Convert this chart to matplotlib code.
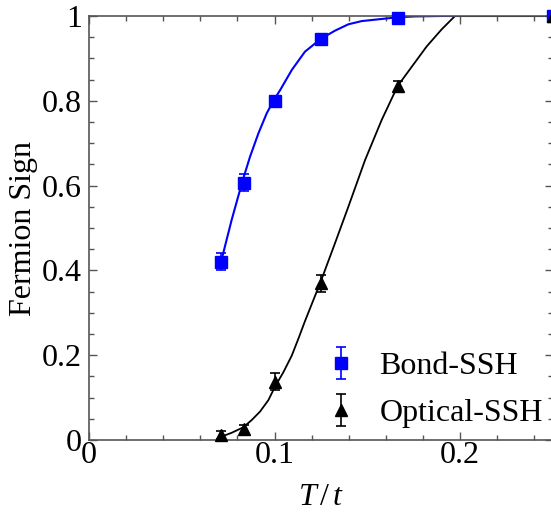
import matplotlib
matplotlib.use("Agg")
import matplotlib.pyplot as plt
from matplotlib.ticker import MultipleLocator, FuncFormatter

plt.rcParams['font.family'] = ['Liberation Serif', 'DejaVu Serif']
plt.rcParams['mathtext.fontset'] = 'custom'
plt.rcParams['mathtext.rm'] = 'Liberation Serif'
plt.rcParams['mathtext.it'] = 'Liberation Serif:italic'

# Data points
T_bond = [0.0714, 0.0833, 0.1, 0.125, 0.1667, 0.25]
S_bond = [0.420, 0.607, 0.800, 0.946, 0.996, 1.0]
E_bond = [0.020, 0.020, 0.010, 0.005, 0.004, 0.002]

T_opt = [0.0714, 0.0833, 0.1, 0.125, 0.1667, 0.25]
S_opt = [0.012, 0.025, 0.137, 0.370, 0.835, 1.0]
E_opt = [0.010, 0.010, 0.020, 0.020, 0.012, 0.002]

# Fit curves
fit_T_bond = [0.0712, 0.0769, 0.0828, 0.0868, 0.0913, 0.0958, 0.0997, 0.103,
              0.1093, 0.1164, 0.1249, 0.1326, 0.1398, 0.147, 0.1578, 0.1664,
              0.1757, 0.19, 0.25]
fit_S_bond = [0.4206, 0.519, 0.6116, 0.668, 0.723, 0.7705, 0.802, 0.825,
              0.8726, 0.9158, 0.9458, 0.9654, 0.9804, 0.988, 0.993, 0.997,
              0.999, 1.0, 1.0]

fit_T_opt = [0.0715, 0.0769, 0.0832, 0.0877, 0.0922, 0.0967, 0.1003, 0.1048,
             0.1093, 0.1128, 0.1164, 0.1249, 0.1326, 0.1398, 0.1488, 0.1578,
             0.1664, 0.182, 0.19, 0.1973, 0.25]
fit_S_opt = [0.008, 0.017, 0.030, 0.047, 0.067, 0.094, 0.126, 0.160,
             0.199, 0.238, 0.280, 0.3734, 0.464, 0.550, 0.660, 0.755,
             0.835, 0.928, 0.968, 1.0, 1.0]

fig = plt.figure(figsize=(5.51, 5.12), dpi=100)
ax = fig.add_axes([89/551, 1-440/512, (552.75-89)/551, (440-16)/512])

blue = '#0000ff'
ax.plot(fit_T_bond, fit_S_bond, color=blue, lw=1.5, zorder=2)
ax.plot(fit_T_opt, fit_S_opt, color='black', lw=1.3, zorder=2)

ax.errorbar(T_bond, S_bond, yerr=E_bond, fmt='s', color=blue, ms=8,
            capsize=3.5, elinewidth=1.2, capthick=1.2, clip_on=False,
            label='Bond-SSH', zorder=3)
ax.errorbar(T_opt, S_opt, yerr=E_opt, fmt='^', color='black', ms=9,
            capsize=3.5, elinewidth=1.2, capthick=1.2, clip_on=False,
            label='Optical-SSH', zorder=3)

ax.set_xlim(0, 0.25)
ax.set_ylim(0, 1)

ax.xaxis.set_major_locator(MultipleLocator(0.1))
ax.xaxis.set_minor_locator(MultipleLocator(0.02))
ax.yaxis.set_major_locator(MultipleLocator(0.2))
ax.yaxis.set_minor_locator(MultipleLocator(0.05))

def fmt(v, pos):
    if abs(v) < 1e-9:
        return '0'
    if abs(v - 1) < 1e-9:
        return '1'
    return ('%.1f' % v)

ax.xaxis.set_major_formatter(FuncFormatter(fmt))
ax.yaxis.set_major_formatter(FuncFormatter(fmt))

ax.tick_params(which='both', direction='in', top=True, right=True,
               labelsize=23, color='#555555')
ax.tick_params(which='major', length=6, width=1)
ax.tick_params(which='minor', length=3.5, width=1)
ax.tick_params(axis='x', pad=1)
ax.tick_params(axis='y', pad=5)

for sp in ax.spines.values():
    sp.set_color('#555555')
    sp.set_linewidth(1.2)

ax.set_xlabel('$T\\,/\\,t$', fontsize=23, labelpad=9)
ax.set_ylabel('Fermion Sign', fontsize=23, labelpad=3)

leg = ax.legend(loc='lower right', bbox_to_anchor=(1.006, -0.002), frameon=False,
                fontsize=23, handletextpad=0.6, handlelength=1.2,
                borderaxespad=0.0, labelspacing=0.55)

fig.savefig('out.png', dpi=100)
